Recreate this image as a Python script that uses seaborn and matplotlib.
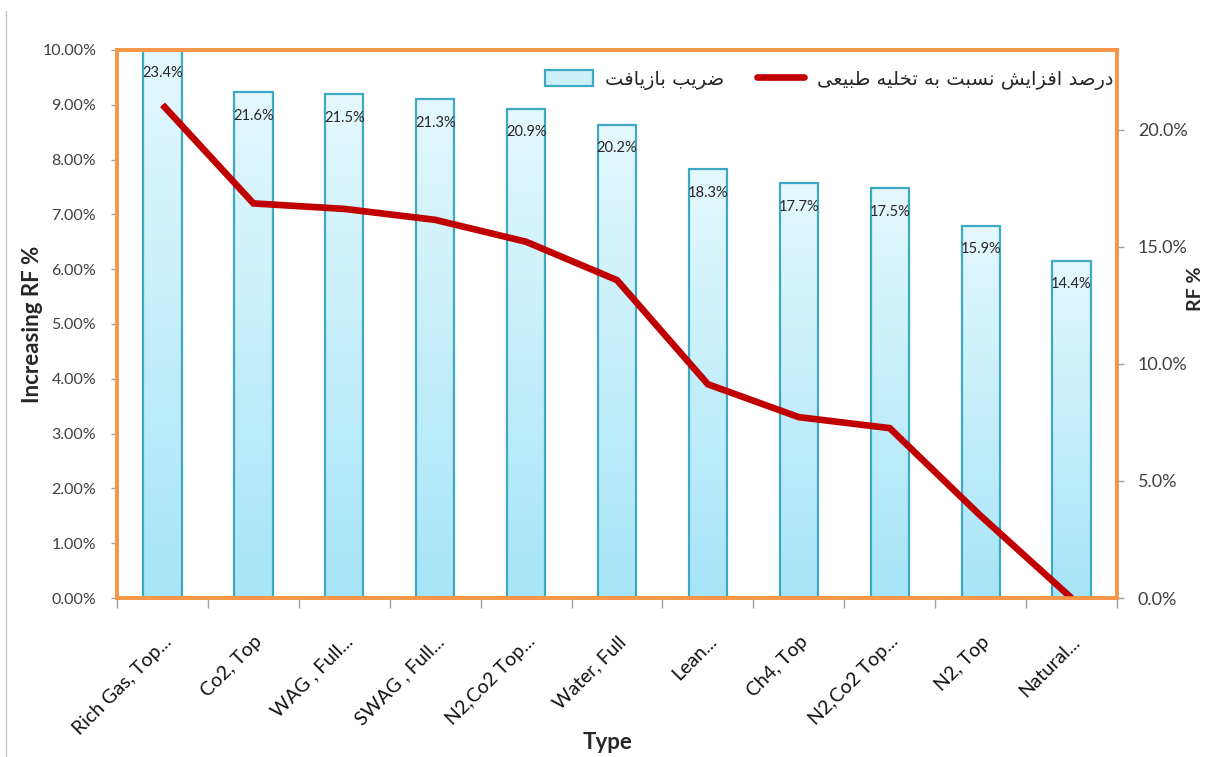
import numpy as np
import pandas as pd
import matplotlib
matplotlib.use("Agg")
import matplotlib.pyplot as plt
from matplotlib.ticker import PercentFormatter, FixedLocator
from matplotlib.transforms import ScaledTranslation
from matplotlib.lines import Line2D
from matplotlib.patches import Patch
import seaborn as sns

# ---- data -------------------------------------------------------------
types = ["Rich Gas, Top...", "Co2, Top", "WAG , Full...", "SWAG , Full...",
         "N2,Co2 Top...", "Water, Full", "Lean...", "Ch4, Top",
         "N2,Co2 Top...", "N2, Top", "Natural..."]
rf = [23.4, 21.6, 21.5, 21.3, 20.9, 20.2, 18.3, 17.7, 17.5, 15.9, 14.4]
increase = [9.0, 7.2, 7.1, 6.9, 6.5, 5.8, 3.9, 3.3, 3.1, 1.5, 0.0]

# Persian legend labels. matplotlib has no Arabic shaping, so the words are
# stored in their joined presentation forms and reversed into visual order.
label_rf = "\uFEBF\uFEAE\uFBFE\uFE90 \uFE91\uFE8E\uFEAF\uFBFE\uFE8E\uFED3\uFE96"[::-1]
label_increase = ("\uFEA9\uFEAD\uFEBB\uFEAA \uFE8D\uFED3\uFEB0\uFE8D\uFBFE\uFEB6 "
                  "\uFEE7\uFEB4\uFE92\uFE96 \uFE91\uFEEA "
                  "\uFE97\uFEA8\uFEE0\uFBFF\uFEEA \uFEC3\uFE92\uFBFF\uFECC\uFBFD")[::-1]

df = pd.DataFrame({"idx": range(len(types)), "Type": types,
                   "RF": rf, "Increase": increase})

# ---- style ------------------------------------------------------------
sns.set_theme(style="white")
plt.rcParams["font.family"] = ["Lato", "DejaVu Sans"]

orange = "#F79646"
red = "#C00000"
bar_edge = "#3FA8C2"
tick_grey = "#404040"

fig = plt.figure(figsize=(12.07, 7.57), dpi=100)
ax = fig.add_axes([0.097, 0.21, 0.8284, 0.724])
ax2 = ax.twinx()

# bars (recovery factor) on the right axis
sns.barplot(data=df, x="idx", y="RF", ax=ax2, width=0.42,
            color="#CDEFF9", edgecolor=bar_edge, linewidth=1.6, saturation=1)
ax2.set_ylim(0, 23.4)

# soft vertical gradient inside each bar, value printed near its top
grad = np.linspace(0, 1, 256).reshape(-1, 1)
cmap = matplotlib.colors.LinearSegmentedColormap.from_list(
    "barfill", ["#A6E5F7", "#E4F8FD"])
for p in ax2.patches:
    x0, y0 = p.get_x(), p.get_y()
    w, h = p.get_width(), p.get_height()
    p.set_facecolor("none")
    im = ax2.imshow(grad, cmap=cmap, aspect="auto", origin="lower",
                    extent=[x0, x0 + w, y0, y0 + h], zorder=p.get_zorder() - 0.1)
    im.set_clip_path(p)
    ax2.text(x0 + w / 2, y0 + h - 1.0, f"{h:.1f}%", ha="center", va="center",
             fontsize=10.5, color="#262626")
ax2.set_xlim(-0.5, len(types) - 0.5)

# line (increase over natural depletion) on the left axis
sns.lineplot(data=df, x="idx", y="Increase", ax=ax, color=red, linewidth=4.8,
             solid_capstyle="butt", solid_joinstyle="miter")
ax.set_ylim(0, 10)
ax.set_xlim(-0.5, len(types) - 0.5)
ax.set_zorder(ax2.get_zorder() + 1)
ax.patch.set_visible(False)

# ---- axes cosmetics ---------------------------------------------------
ax.yaxis.set_major_locator(FixedLocator(np.arange(0, 10.01, 1)))
ax.yaxis.set_major_formatter(PercentFormatter(100, decimals=2))
ax2.yaxis.set_major_locator(FixedLocator(np.arange(0, 20.01, 5)))
ax2.yaxis.set_major_formatter(PercentFormatter(100, decimals=1))

ax.set_xticks(range(len(types)))
ax.set_xticklabels(types, rotation=45, ha="right", rotation_mode="anchor",
                   fontsize=14, color="#111111")
shift = ScaledTranslation(-4 / 100, 0, fig.dpi_scale_trans)
for lbl in ax.get_xticklabels():
    lbl.set_transform(lbl.get_transform() + shift)
ax.xaxis.set_minor_locator(FixedLocator(np.arange(-0.5, len(types), 1)))
ax.tick_params(axis="x", which="major", length=0, pad=25)
ax.tick_params(axis="x", which="minor", length=7, width=1, color="#A0A0A0",
               bottom=True)
ax.tick_params(axis="y", which="major", left=True, length=4, width=1,
               color="#A0A0A0", labelsize=11.5, labelcolor=tick_grey, pad=11)
ax2.tick_params(axis="y", which="major", right=True, length=5, width=1,
                color="#A0A0A0", labelsize=13, labelcolor=tick_grey, pad=10)

for a in (ax, ax2):
    for s in a.spines.values():
        s.set_color(orange)
        s.set_linewidth(2.6)

ax.set_xlabel("Type", fontsize=16, fontweight="bold")
ax.xaxis.set_label_coords(0.491, -0.245)
ax.set_ylabel("Increasing RF %", fontsize=16, fontweight="bold")
ax.yaxis.set_label_coords(-0.074, 0.5)
ax2.set_ylabel("RF %", fontsize=14, fontweight="bold")
ax2.yaxis.label.set_horizontalalignment("center")
ax2.yaxis.label.set_verticalalignment("center")
ax2.yaxis.set_label_coords(1.079, 0.565)

# legend
handles = [Patch(facecolor="#CDEFF9", edgecolor=bar_edge, linewidth=1.6),
           Line2D([0], [0], color=red, linewidth=4.8)]
leg = ax.legend(handles, [label_rf, label_increase], ncol=2, frameon=False,
                loc="upper right", bbox_to_anchor=(1.008, 0.985),
                borderaxespad=0.2,
                prop={"family": ["DejaVu Sans"], "size": 14},
                handlelength=2.45, handleheight=0.9, columnspacing=1.65,
                handletextpad=0.65)

# thin grey rule down the left edge of the figure
fig.add_artist(Line2D([0.005, 0.005], [0.0, 0.985], color="#C8C8C8",
                      linewidth=1, transform=fig.transFigure))

fig.savefig("out.png", dpi=100, facecolor="white")
